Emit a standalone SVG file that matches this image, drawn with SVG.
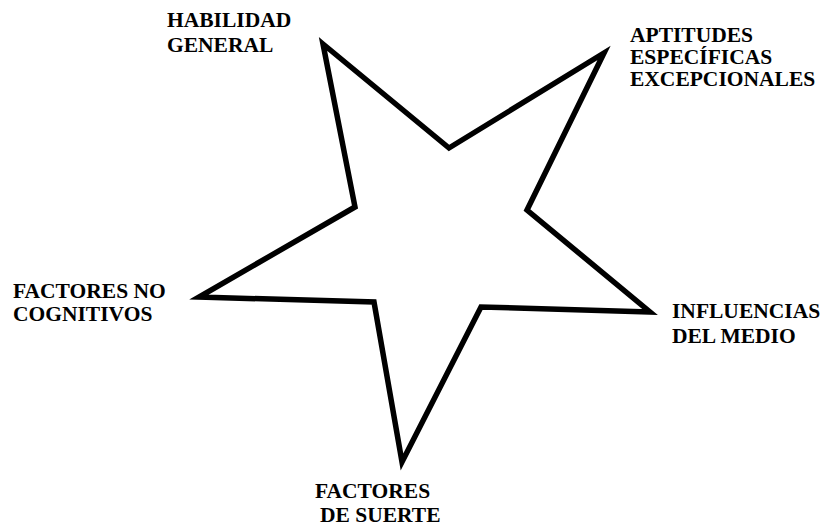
<svg xmlns="http://www.w3.org/2000/svg" width="820" height="527" viewBox="0 0 820 527">
<style>
.lbl{font-family:"Liberation Serif","Times New Roman",serif;font-weight:bold;font-size:21.5px;fill:#000}
.star{fill:none;stroke:#000;stroke-width:5.5;stroke-linejoin:miter;stroke-miterlimit:10}
</style>
<rect width="820" height="527" fill="#fff"/>
<g id="connectors">
<polygon id="star" class="star" points="323,44 449,148 604,53 527,210 650,312 481,307 402,462 374,302 199,297 355,207"/>
</g>
<g id="habilidad"><text class="lbl" x="167" y="27">HABILIDAD</text><text class="lbl" x="167" y="52">GENERAL</text></g>
<g id="aptitudes"><text class="lbl" x="630" y="42">APTITUDES</text><text class="lbl" x="630" y="64">ESPECÍFICAS</text><text class="lbl" x="630" y="86">EXCEPCIONALES</text></g>
<g id="factores-no"><text class="lbl" x="13" y="298">FACTORES NO</text><text class="lbl" x="13" y="321">COGNITIVOS</text></g>
<g id="influencias"><text class="lbl" x="672" y="318">INFLUENCIAS</text><text class="lbl" x="672" y="343">DEL MEDIO</text></g>
<g id="suerte"><text class="lbl" x="315" y="498">FACTORES</text><text class="lbl" x="320" y="522">DE SUERTE</text></g>
</svg>
